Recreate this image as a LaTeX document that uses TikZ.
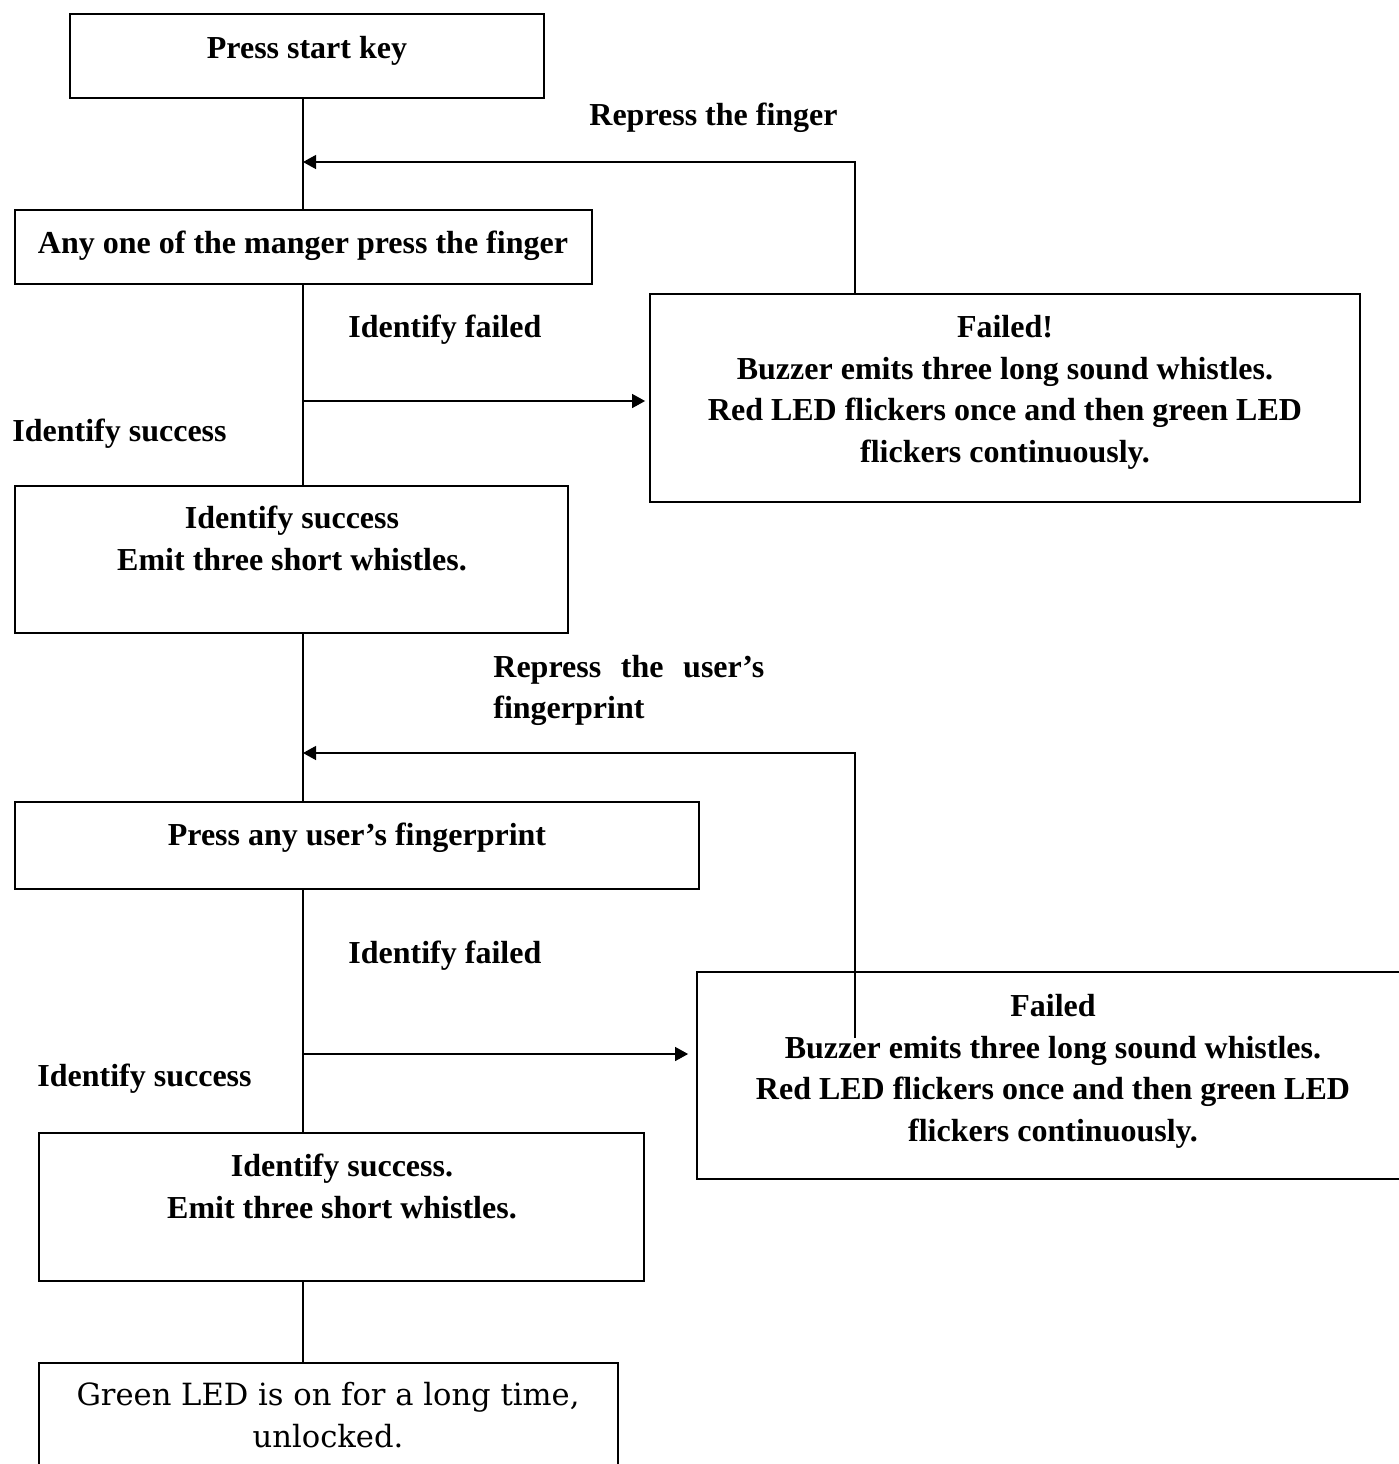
\documentclass[tikz,border=0pt]{standalone}
\usepackage{fontspec}
\setmainfont{Liberation Serif}
\newfontfamily\plainserif{DejaVu Serif}
\usetikzlibrary{arrows.meta,fit}

\tikzset{
  box/.style={draw, line width=0.9pt, inner sep=0pt},
  txt/.style={inner sep=0pt, align=center, anchor=base, font=\bfseries\fontsize{16}{20.75}\selectfont},
  lbl/.style={inner sep=0pt, anchor=base west, font=\bfseries\fontsize{16}{20.75}\selectfont},
  conn/.style={line width=0.65pt},
  arr/.style={conn, -{Triangle[length=6.5pt,width=7pt]}},
}

\begin{document}
\begin{tikzpicture}[x=0.5pt,y=-0.5pt]
\useasboundingbox (0,0) rectangle (1399,1464);
\clip (0,0) rectangle (1399,1464);

% main column x position
\coordinate (spine) at (303,0);

% boxes
\node[box, fit={(70,14) (544,98)}] (b1) {};
\node[box, fit={(15,210) (592,284)}] (b2) {};
\node[box, fit={(650,294) (1360,502)}] (f1) {};
\node[box, fit={(15,486) (568,633)}] (b3) {};
\node[box, fit={(15,802) (699,889)}] (b4) {};
\node[box, fit={(697,972) (1420,1179)}] (f2) {};
\node[box, fit={(39,1133) (644,1281)}] (b5) {};
\node[box, fit={(39,1363) (618,1480)}] (b6) {};

% box texts (multi-line nodes are placed by the baseline of their last line)
\node[txt] (t1) at (307,58) {Press start key};
\node[txt] (t2) at (303,253) {Any one of the manger press the finger};
\node[txt] (tf1) at (1005,462) {Failed!\\Buzzer emits three long sound whistles.\\Red LED flickers once and then green LED\\flickers continuously.};
\node[txt] (t3) at (292,570) {Identify success\\Emit three short whistles.};
\node[txt] (t4) at (357,845) {Press any user’s fingerprint};
\node[txt] (tf2) at (1053,1141) {Failed\\Buzzer emits three long sound whistles.\\Red LED flickers once and then green LED\\flickers continuously.};
\node[txt] (t5) at (342,1218) {Identify success.\\Emit three short whistles.};
\node[txt, font=\plainserif\fontsize{15.3}{20.75}\selectfont] (t6) at (328,1447) {Green LED is on for a long time,\\unlocked.};

% connector labels
\node[lbl] (l1) at (589,125) {Repress the finger};
\node[lbl] (l2) at (348,337) {Identify failed};
\node[lbl] (l3) at (12,441) {Identify success};
\node[lbl, text width=135.5pt, align=justify] (l4) at (493,677) {Repress the user’s\linebreak fingerprint};
\node[lbl] (l5) at (348,963) {Identify failed};
\node[lbl] (l6) at (37,1086) {Identify success};

% connector points
\coordinate (fb1) at (855,162);
\coordinate (br1) at (303,401);
\coordinate (fb2) at (855,753);
\coordinate (fb2end) at (855,1038);
\coordinate (br2) at (303,1054);

% main flow
\draw[conn] (b1.south -| spine) -- (b2.north -| spine);
\draw[conn] (b2.south -| spine) -- (b3.north -| spine);
\draw[conn] (b3.south -| spine) -- (b4.north -| spine);
\draw[conn] (b4.south -| spine) -- (b5.north -| spine);
\draw[conn] (b5.south -| spine) -- (b6.north -| spine);

% failure branches
\draw[arr, shorten >=2pt] (br1) -- (br1 -| f1.west);
\draw[arr, shorten >=4pt] (br2) -- (br2 -| f2.west);

% retry loops
\draw[arr] (f1.north -| fb1) -- (fb1) -- (fb1 -| spine);
\draw[arr] (fb2end) -- (fb2) -- (fb2 -| spine);
\end{tikzpicture}
\end{document}
